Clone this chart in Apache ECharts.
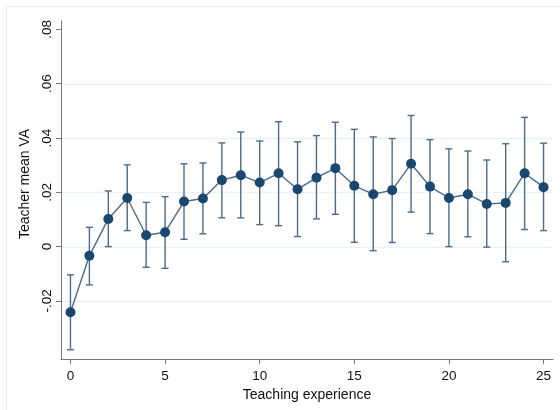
<!DOCTYPE html>
<html>
<head>
<meta charset="utf-8">
<script src="https://cdn.jsdelivr.net/npm/echarts@6/dist/echarts.min.js"></script>
<style>
  html, body { margin: 0; padding: 0; background: #fff; }
  #chart { width: 560px; height: 410px; }
</style>
</head>
<body>
<div id="chart"></div>
<script>
// Years of teaching experience
const experience = [0, 1, 2, 3, 4, 5, 6, 7, 8, 9, 10, 11, 12, 13, 14, 15, 16, 17, 18, 19, 20, 21, 22, 23, 24, 25];
// Mean teacher value-added by experience
const meanVA = [-0.0242, -0.0034, 0.0102, 0.0179, 0.0042, 0.0053, 0.0166, 0.0177, 0.0245, 0.0263,
                0.0236, 0.0270, 0.0211, 0.0254, 0.0289, 0.0224, 0.0193, 0.0208, 0.0305, 0.0221,
                0.0179, 0.0193, 0.0157, 0.0161, 0.0270, 0.0219];
// 95% confidence interval bounds
const ciUpper = [-0.0104, 0.0071, 0.0205, 0.0301, 0.0163, 0.0184, 0.0305, 0.0308, 0.0382, 0.0422,
                 0.0389, 0.0460, 0.0386, 0.0409, 0.0458, 0.0432, 0.0404, 0.0398, 0.0483, 0.0394,
                 0.0360, 0.0352, 0.0319, 0.0379, 0.0476, 0.0381];
const ciLower = [-0.0380, -0.0141, 0.0000, 0.0059, -0.0076, -0.0080, 0.0027, 0.0047, 0.0106, 0.0106,
                 0.0081, 0.0077, 0.0037, 0.0102, 0.0119, 0.0016, -0.0015, 0.0015, 0.0127, 0.0048,
                 0.0000, 0.0036, -0.0002, -0.0056, 0.0063, 0.0059];
// Axis ticks
const xTicks = [0, 5, 10, 15, 20, 25];
const yTicks = [-0.02, 0, 0.02, 0.04, 0.06, 0.08];
const yGridLines = [-0.02, 0, 0.02, 0.04, 0.06];

const navy = '#1a476f';
const steel = '#4a6b8c';
const font = '"Liberation Sans", Arial, Helvetica, sans-serif';

function fmtY(v) {
  if (Math.abs(v) < 1e-9) return '0';
  const s = (Math.round(v * 100) / 100).toFixed(2);
  return s.replace(/^(-?)0\./, '$1.');
}

const chart = echarts.init(document.getElementById('chart'), null, { renderer: 'canvas' });

const points = experience.map((x, i) => [x, meanVA[i]]);
const bars = experience.map((x, i) => [x, ciLower[i], ciUpper[i]]);
const grids = yGridLines.map(v => [v]);

chart.setOption({
  animation: false,
  backgroundColor: '#ffffff',
  graphic: [{
    type: 'rect',
    shape: { x: 6.5, y: 6.5, width: 600, height: 450 },
    style: { fill: 'none', stroke: '#e6eef2', lineWidth: 1 },
    silent: true,
    z: -10
  }],
  grid: { left: 61, right: 7, top: 21, bottom: 51, containLabel: false },
  xAxis: {
    type: 'value',
    min: -0.5,
    max: 25.5,
    name: 'Teaching experience',
    nameLocation: 'middle',
    nameGap: 21,
    nameTextStyle: { fontFamily: font, fontSize: 14, color: '#111' },
    axisLine: { show: true, onZero: false, lineStyle: { color: '#777', width: 1 } },
    axisTick: { show: true, length: 5, lineStyle: { color: '#777' }, customValues: xTicks },
    axisLabel: { fontFamily: font, fontSize: 13.5, color: '#111', margin: 10, customValues: xTicks },
    splitLine: { show: false }
  },
  yAxis: {
    type: 'value',
    min: -0.0414,
    max: 0.0831,
    name: 'Teacher mean VA',
    nameLocation: 'middle',
    nameGap: 21,
    nameTextStyle: { fontFamily: font, fontSize: 14, color: '#111', padding: [0, 0, 0, 12] },
    axisLine: { show: true, onZero: false, lineStyle: { color: '#777', width: 1 } },
    axisTick: { show: true, length: 5, lineStyle: { color: '#777' }, customValues: yTicks },
    axisLabel: {
      fontFamily: font, fontSize: 13.5, color: '#111', margin: 7, rotate: 90,
      customValues: yTicks,
      formatter: fmtY
    },
    splitLine: { show: false }
  },
  series: [
    {
      // horizontal grid lines at the inner y ticks
      type: 'custom',
      silent: true,
      z: 0,
      data: grids,
      renderItem: function (params, api) {
        const y = api.coord([0, api.value(0)])[1];
        const cs = params.coordSys;
        return {
          type: 'line',
          shape: { x1: cs.x, y1: Math.round(y) + 0.5, x2: cs.x + cs.width, y2: Math.round(y) + 0.5 },
          style: { stroke: '#e9f1f3', lineWidth: 1.5 }
        };
      }
    },
    {
      // confidence interval whiskers with caps
      type: 'custom',
      silent: true,
      z: 2,
      data: bars,
      encode: { x: 0, y: [1, 2] },
      renderItem: function (params, api) {
        const lo = api.coord([api.value(0), api.value(1)]);
        const hi = api.coord([api.value(0), api.value(2)]);
        const cap = 3.5;
        const st = { stroke: steel, lineWidth: 1.4 };
        return {
          type: 'group',
          children: [
            { type: 'line', shape: { x1: lo[0], y1: lo[1], x2: hi[0], y2: hi[1] }, style: st },
            { type: 'line', shape: { x1: lo[0] - cap, y1: lo[1], x2: lo[0] + cap, y2: lo[1] }, style: st },
            { type: 'line', shape: { x1: hi[0] - cap, y1: hi[1], x2: hi[0] + cap, y2: hi[1] }, style: st }
          ]
        };
      }
    },
    {
      type: 'line',
      data: points,
      z: 3,
      symbol: 'circle',
      symbolSize: 10,
      lineStyle: { color: steel, width: 1.4 },
      itemStyle: { color: navy, borderWidth: 0 },
      emphasis: { disabled: true }
    }
  ]
});
</script>
</body>
</html>
